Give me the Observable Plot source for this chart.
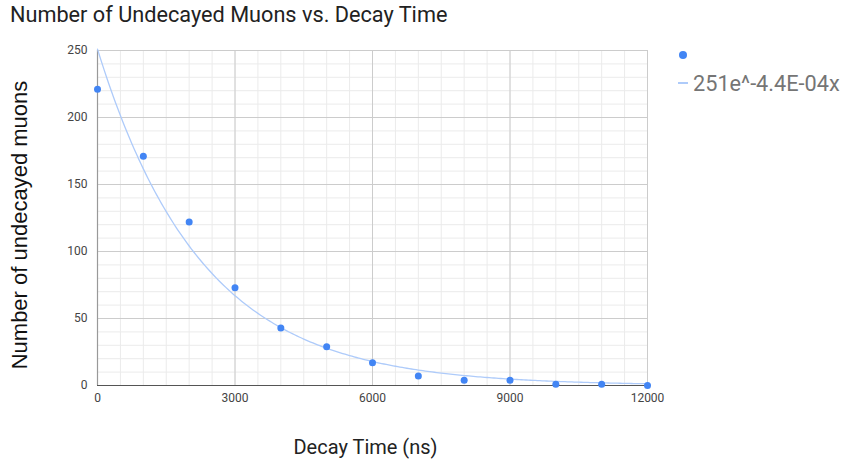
<!DOCTYPE html>
<html>
<head>
<meta charset="utf-8">
<script src="https://cdn.jsdelivr.net/npm/d3@7"></script>
<script src="https://cdn.jsdelivr.net/npm/@observablehq/plot@0.6"></script>
<style>
  html, body { margin: 0; padding: 0; background: #fff; }
  #wrap { position: relative; width: 843px; height: 463px; font-family: Roboto, "Noto Sans", sans-serif; }
  #title { position: absolute; left: 10px; top: 2px; font-size: 21.7px; color: #222; white-space: nowrap; }
  #legend { position: absolute; left: 678px; top: 41px; font-size: 21.7px; color: #757575; }
  .lg-row { display: flex; align-items: center; height: 28px; white-space: nowrap; }
  .lg-dot { width: 8px; height: 8px; border-radius: 50%; background: #4285F4; margin-left: 1px; }
  .lg-line { width: 10px; height: 2px; background: #aecbfa; margin-right: 5px; margin-left: 0px; }
</style>
</head>
<body>
<div id="wrap">
  <div id="chart"></div>
  <div id="title">Number of Undecayed Muons vs. Decay Time</div>
  <div id="legend">
    <div class="lg-row"><div class="lg-dot"></div></div>
    <div class="lg-row"><div class="lg-line"></div><span id="trendLabel"></span></div>
  </div>
</div>
<script>
// Data
const decayTimes = [0, 1000, 2000, 3000, 4000, 5000, 6000, 7000, 8000, 9000, 10000, 11000, 12000];
const muonCounts = [221, 171, 122, 73, 43, 29, 17, 7, 4, 4, 1, 1, 0];
// Exponential trendline coefficients shown in the legend
const trendA = 251;
const trendB = -4.4e-4;
const trendLabel = "251e^-4.4E-04x";
const xTicks = [0, 3000, 6000, 9000, 12000];
const yTicks = [0, 50, 100, 150, 200, 250];
const xMinor = d3.range(0, 12001, 500);
const yMinor = d3.range(0, 251, 10);
const xTitle = "Decay Time (ns)";
const yTitle = "Number of undecayed muons";

const points = decayTimes.map((t, i) => ({t, n: muonCounts[i]}));
const trend = d3.range(0, 12001, 50).map(t => ({t, n: trendA * Math.exp(trendB * t)}));

document.getElementById("trendLabel").textContent = trendLabel;

const chart = Plot.plot({
  width: 843,
  height: 463,
  marginLeft: 97,
  marginRight: 196,
  marginTop: 50,
  marginBottom: 78,
  style: {fontFamily: "Roboto, 'Noto Sans', sans-serif", background: "#fff"},
  x: {domain: [0, 12000]},
  y: {domain: [0, 250]},
  marks: [
    Plot.gridX(xMinor, {stroke: "#ebebeb", strokeOpacity: 1}),
    Plot.gridY(yMinor, {stroke: "#ebebeb", strokeOpacity: 1}),
    Plot.gridX(xTicks, {stroke: "#cccccc", strokeOpacity: 1}),
    Plot.gridY(yTicks, {stroke: "#cccccc", strokeOpacity: 1}),
    Plot.ruleX([0], {stroke: "#999", strokeWidth: 1.2}),
    Plot.ruleY([0], {stroke: "#555", strokeWidth: 1.2}),
    Plot.axisX(xTicks, {tickSize: 0, tickPadding: 8, fontSize: 12, color: "#444", tickFormat: d => String(d), label: null}),
    Plot.axisY(yTicks, {tickSize: 0, tickPadding: 10, fontSize: 12, color: "#444", tickFormat: d => String(d), label: null}),
    Plot.text([xTitle], {frameAnchor: "bottom", text: d => d, dy: 62, dx: -7, fontSize: 20, fill: "#222", lineAnchor: "middle", textAnchor: "middle"}),
    Plot.text([yTitle], {frameAnchor: "left", text: d => d, rotate: -90, dx: -78, dy: 7, fontSize: 22, fill: "#111", fontFamily: "'Liberation Sans', Arial, sans-serif", lineAnchor: "middle", textAnchor: "middle"}),
    Plot.line(trend, {x: "t", y: "n", stroke: "#aecbfa", strokeWidth: 1.3}),
    Plot.dot(points, {x: "t", y: "n", r: 3.5, fill: "#4285F4"})
  ]
});
document.getElementById("chart").appendChild(chart);
</script>
</body>
</html>
